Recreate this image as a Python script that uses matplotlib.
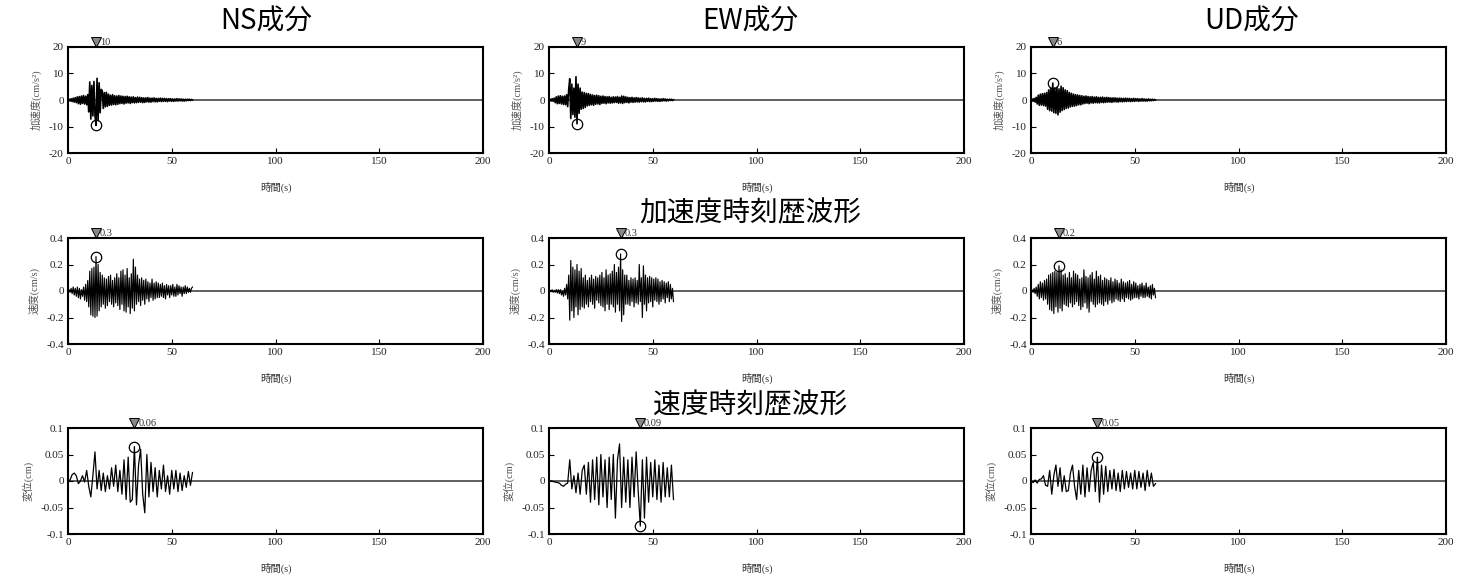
import matplotlib
matplotlib.use('Agg')
import numpy as np
import matplotlib.pyplot as plt
import matplotlib.transforms as mtransforms

# Column / row names
components = ['NS成分', 'EW成分', 'UD成分']
row_titles = ['加速度時刻歴波形', '速度時刻歴波形']
ylabels = ['加速度(cm/s²)', '速度(cm/s)', '変位(cm)']
xlabel = '時間(s)'
duration = 60.0  # record length (s)

# Acceleration (cm/s^2), 0.5 s steps
ns_acc = [0, 0.3, -0.4, 0.5, -0.6, 0.7, -0.8, 0.9, -1.0,
          1.2, -1.4, 1.3, -1.6, 1.5, -1.3, 1.7, -1.5, 1.4, -1.8, 2.0,
          -4.5, 6.8, -7.2, 5.5, -6.0, 7.0, -5.8, -9.6, 8.2, -7.8, 6.5, -4.8, 4.0,
          3.5, -3.2, 2.8, -2.6, 2.9, -2.4, 2.2, -2.0,
          1.8, -1.9, 2.0, -1.7, 1.6, -1.8, 1.5, -1.6, 1.7, -1.4, 1.5, -1.3, 1.4, -1.5, 1.3, -1.2, 1.4, -1.1, 1.2, -1.3,
          1.1, -1.0, 1.2, -1.1, 0.9, -1.0, 1.1, -0.9, 1.0, -0.8, 0.9, -1.0, 0.8, -0.9, 0.8, -0.7, 0.9, -0.8, 0.7, -0.8,
          0.7, -0.6, 0.8, -0.7, 0.6, -0.7, 0.6, -0.5, 0.7, -0.6,
          0.6, -0.5, 0.6, -0.5, 0.5, -0.6, 0.5, -0.4, 0.5, -0.5, 0.4, -0.5, 0.4, -0.4, 0.5, -0.4, 0.4, -0.3, 0.4, -0.4,
          0.3, -0.4, 0.3, -0.3, 0.3, -0.2, 0.3, -0.2, 0.2, 0.0]
ew_acc = [0, 0.3, -0.4, 0.5, -0.5, 0.7,
          -1.0, 1.2, -1.4, 1.5, -1.3, 1.6, -1.5, 1.4, -1.7, 1.5, -1.8, 2.0, -2.5,
          4.0, 8.0, -7.0, 6.0, -5.5, 4.5, -6.5, 8.8, -9.0, 6.0, -5.0, 4.5, -3.5, 3.0, -3.2, 2.8,
          -2.8, 2.5, -2.2, 2.4, -2.0, 2.1, -1.8, 1.9, -2.0, 1.7, -1.6, 1.8, -1.5, 1.6, -1.7, 1.4,
          -1.3, 1.5, -1.2, 1.3, -1.4, 1.2, -1.1, 1.3, -1.2, 1.0, -1.1, 1.2, -1.0, 1.1, -0.9, 1.3, -1.2, 1.0, -1.1, 1.5,
          -1.3, 1.4, -1.0, 1.2, -0.9, 1.0, -1.1, 0.9, -0.8, 1.0,
          -0.9, 0.8, -0.8, 0.9, -0.7, 0.8, -0.8, 0.7, -0.6, 0.8, -0.7, 0.6, -0.7, 0.6, -0.5, 0.7, -0.6, 0.5, -0.6, 0.5,
          -0.5, 0.6, -0.4, 0.5, -0.5, 0.4, -0.5, 0.4, -0.4, 0.5, -0.3, 0.4, -0.4, 0.3, -0.3, 0.3, -0.2, 0.3, -0.2, 0.1]
ud_acc = [0, 0.4, -0.5, 0.6, -0.8, 1.0,
          -1.5, 1.8, -2.0, 2.2, -1.9, 2.4, -2.1, 2.5, -2.3, 2.8,
          -3.5, 3.8, -4.0, 4.5, -4.2, 6.4, -4.8, 4.6, -5.0, 4.8, -5.6, 4.2, -4.6, 5.2, -4.0, 4.6, -3.6, 3.8, -3.2, 3.5, -3.0,
          2.8, -2.6, 2.5, -2.4, 2.2, -2.3, 2.0, -2.1, 1.9, -1.8, 1.7, -1.8, 1.6, -1.5,
          1.4, -1.3, 1.5, -1.2, 1.3, -1.4, 1.2, -1.1, 1.3, -1.2, 1.1, -1.0, 1.2, -1.1, 1.0, -1.1, 1.0, -0.9, 1.1, -1.0,
          0.9, -0.9, 1.0, -0.8, 0.9, -0.8, 0.8, -0.9, 0.8, -0.7,
          0.8, -0.7, 0.7, -0.8, 0.7, -0.6, 0.7, -0.7, 0.6, -0.6, 0.7, -0.6, 0.6, -0.5, 0.6, -0.6, 0.5, -0.5, 0.6, -0.5,
          0.5, -0.4, 0.5, -0.5, 0.4, -0.4, 0.5, -0.4, 0.4, -0.4, 0.3, -0.4, 0.4, -0.3, 0.3, -0.3, 0.3, -0.2, 0.2, 0.0]

# Velocity (cm/s), 0.5 s steps
ns_vel = [0, 0.01, -0.01, 0.02, -0.02, 0.03, -0.03, 0.02, -0.04, 0.03,
          -0.05, 0.02, -0.06, 0.01, -0.04, 0.03, -0.07, 0.05, -0.08, 0.08,
          -0.12, 0.15, -0.18, 0.17, -0.19, 0.18, -0.2, 0.26, -0.19, 0.2, -0.15, 0.14, -0.12,
          0.12, -0.1, 0.1, -0.13, 0.09, -0.11, 0.11, -0.08, 0.12, -0.1, 0.08, -0.12, 0.1, -0.09, 0.13, -0.11, 0.1,
          -0.14, 0.15, -0.1, 0.16, -0.15, 0.12, -0.16, 0.17, -0.12, 0.1, -0.17, 0.13, -0.13, 0.24, -0.15, 0.18, -0.1, 0.12, -0.08,
          0.09, -0.11, 0.1, -0.07, 0.08, -0.1, 0.09, -0.06, 0.07, -0.08, 0.06, -0.05, 0.09, -0.07, 0.06, -0.06, 0.07, -0.05, 0.06,
          -0.05, 0.05, -0.04, 0.06, -0.05, 0.04, -0.06, 0.05, -0.03, 0.04, -0.05, 0.04, -0.03, 0.05, -0.04, 0.03, -0.04,
          0.05, -0.03, 0.04, -0.02, 0.03, -0.04, 0.03, -0.02, 0.04, -0.02, 0.03, -0.01, 0.02, -0.01, 0.02, 0.03]
ew_vel = [0, 0.005, -0.005, 0.01, -0.01, 0.005, -0.01, 0.01, -0.015, 0.01,
          -0.02, 0.01, -0.03, 0.0, -0.04, 0.02, -0.03, 0.05, -0.06,
          0.12, -0.22, 0.23, -0.15, 0.18, -0.2, 0.16, -0.12, 0.2, -0.18, 0.15, -0.14, 0.17, -0.12, 0.1, -0.13,
          0.12, -0.1, 0.08, -0.12, 0.1, -0.08, 0.12, -0.1, 0.09, -0.13, 0.11, -0.07, 0.1, -0.09, 0.12, -0.11,
          0.14, -0.12, 0.1, -0.15, 0.16, -0.1, 0.12, -0.14, 0.13, -0.1,
          0.15, -0.12, 0.2, -0.16, 0.14, -0.1, 0.18, -0.15, 0.28, -0.23, 0.16, -0.18, 0.12, -0.1,
          0.12, -0.1, 0.08, -0.11, 0.1, -0.08, 0.09, -0.12, 0.1, -0.09, 0.08, -0.1, 0.2, -0.08, 0.1, -0.2,
          0.19, -0.1, 0.12, -0.15, 0.1, -0.09, 0.11, -0.08, 0.1, -0.12, 0.09, -0.07, 0.1, -0.08, 0.09,
          -0.1, 0.07, -0.08, 0.08, -0.06, 0.07, -0.09, 0.06, -0.05, 0.07, -0.08, 0.05, -0.06, 0.02, -0.08]
ud_vel = [0, 0.01, -0.01, 0.02, -0.02, 0.03,
          -0.04, 0.05, -0.06, 0.07, -0.05, 0.06, -0.07, 0.08, -0.06, 0.09,
          -0.1, 0.12, -0.14, 0.13, -0.15, 0.14, -0.17, 0.15, -0.12, 0.14, -0.16, 0.19, -0.13, 0.16, -0.15, 0.12, -0.1, 0.13, -0.11, 0.1, -0.12,
          0.14, -0.09, 0.1, -0.12, 0.15, -0.1, 0.13, -0.08, 0.12, -0.11, 0.09, -0.14, 0.1, -0.12, 0.16, -0.09, 0.11,
          -0.13, 0.1, -0.16, 0.12, -0.08, 0.14, -0.1, 0.09, -0.12, 0.15, -0.1, 0.11, -0.09, 0.12, -0.1, 0.08, -0.11,
          0.1, -0.08, 0.09, -0.1, 0.08, -0.07, 0.1, -0.09, 0.07, -0.08, 0.09, -0.06, 0.08, -0.07, 0.06,
          -0.08, 0.09, -0.06, 0.07, -0.08, 0.06, -0.05, 0.07, -0.06, 0.08, -0.07, 0.05, -0.06, 0.07, -0.05,
          0.06, -0.05, 0.04, -0.06, 0.05, -0.04, 0.06, -0.05, 0.04, -0.05, 0.06, -0.04, 0.03, -0.05, 0.04, -0.06, 0.05, -0.03, 0.02, -0.05]

# Displacement (cm), 1 s steps
ns_disp = [0, 0.002, 0.012, 0.015, 0.01, -0.005,
           0.0, 0.01, -0.002, 0.02, -0.01,
           -0.03, 0.01, 0.055, -0.015, 0.02,
           -0.018, 0.015, -0.02, 0.01, -0.015,
           0.025, -0.01, 0.03, -0.02, 0.02,
           -0.025, 0.04, -0.035, 0.045, -0.04,
           -0.035, 0.065, -0.045, 0.03, 0.06, -0.025, -0.06, 0.05, -0.03, 0.035,
           -0.02, 0.025, -0.03, 0.02, -0.015, 0.03, -0.02, 0.01, -0.025, 0.02,
           -0.015, 0.02, -0.02, 0.015, -0.018, 0.01, -0.012, 0.018, -0.008, 0.016]
ew_disp = [0, 0, -0.001, -0.002, -0.003, -0.004,
           -0.008, -0.01, -0.006, -0.004, 0.04,
           -0.015, 0.01, -0.022, 0.015, -0.025,
           0.02, 0.03, -0.025, 0.035, -0.04,
           0.04, -0.035, 0.045, -0.045, 0.05,
           -0.03, 0.04, -0.05, 0.045, -0.035,
           0.05, -0.07, 0.04, 0.07, -0.05, 0.045, -0.04, 0.04, -0.05, 0.045,
           -0.03, 0.055, -0.02, -0.085, 0.04, -0.07, 0.045, -0.04, 0.035, -0.03,
           0.04, -0.035, 0.03, -0.04, 0.035, -0.03, 0.025, -0.03, 0.03, -0.035]
ud_disp = [0, -0.003, 0.002, -0.004, 0.003, 0.004,
           0.01, -0.008, -0.01, 0.02, -0.025,
           0.01, 0.03, -0.01, 0.025, -0.02,
           0.01, -0.02, -0.018, 0.015, 0.03,
           -0.01, -0.035, 0.02, -0.025, 0.03,
           -0.03, 0.025, -0.02, 0.02, 0.035,
           -0.02, 0.045, -0.04, 0.03, -0.025, 0.028, -0.02, 0.02, -0.015, 0.022,
           -0.018, 0.015, -0.02, 0.02, -0.015, 0.018, -0.012, 0.015, -0.015, 0.02,
           -0.015, 0.018, -0.012, 0.015, -0.018, 0.02, -0.01, 0.015, -0.01, -0.005]

# Peak value labels shown next to the triangles
peak_labels = [['10', '9', '6'],
               ['0.3', '0.3', '0.2'],
               ['0.06', '0.09', '0.05']]

waves = [[ns_acc, ew_acc, ud_acc],
         [ns_vel, ew_vel, ud_vel],
         [ns_disp, ew_disp, ud_disp]]

# Axis ranges / tick labels per row
y_limits = [20, 0.4, 0.1]
y_ticks = [[-20, -10, 0, 10, 20],
           [-0.4, -0.2, 0, 0.2, 0.4],
           [-0.1, -0.05, 0, 0.05, 0.1]]
y_ticklabels = [['-20', '-10', '0', '10', '20'],
                ['-0.4', '-0.2', '0', '0.2', '0.4'],
                ['-0.1', '-0.05', '0', '0.05', '0.1']]
x_ticks = [0, 50, 100, 150, 200]
trace_lw = [1.2, 0.85, 0.9]

serif = ['Liberation Serif', 'Noto Sans CJK JP']
plt.rcParams['font.family'] = serif

fig = plt.figure(figsize=(14.63, 5.79), dpi=100)

W, H = 1463.0, 579.0
col_left = [68, 549, 1031]
row_top = [47, 238, 428]
ax_w, ax_h = 415, 106

for r in range(3):
    for c in range(3):
        ax = fig.add_axes([col_left[c] / W, 1 - (row_top[r] + ax_h) / H, ax_w / W, ax_h / H])
        vals = np.array(waves[r][c])
        t = np.linspace(0, duration, len(vals))

        ax.axhline(0, color='#444444', lw=1.2, zorder=1)
        ax.plot(t, vals, color='black', lw=trace_lw[r], zorder=2)

        # peak marker: circle on the trace, triangle above the frame
        k = np.argmax(np.abs(vals))
        ax.plot(t[k], vals[k], 'o', mfc='none', mec='black', ms=7.5, mew=0.9, zorder=3)
        trans = mtransforms.blended_transform_factory(ax.transData, ax.transAxes)
        ax.plot(t[k], 1.045, 'v', color='#888888', mec='black', mew=0.7, ms=6.5,
                transform=trans, clip_on=False)
        ax.text(t[k] + 1.8, 1.045, peak_labels[r][c], transform=trans, fontsize=7.5,
                va='center', ha='left', color='#333333')

        ax.set_xlim(0, 200)
        ax.set_ylim(-y_limits[r], y_limits[r])
        ax.set_xticks(x_ticks)
        ax.set_xticklabels([str(x) for x in x_ticks])
        ax.set_yticks(y_ticks[r])
        ax.set_yticklabels(y_ticklabels[r])
        ax.tick_params(direction='in', length=3.5, width=0.8, labelsize=8,
                       colors='black', labelcolor='#222222', pad=3)
        for s in ax.spines.values():
            s.set_linewidth(1.5)

        ax.set_ylabel(ylabels[r], fontsize=7.5, color='#555555', labelpad=5)
        ax.set_xlabel(xlabel, fontsize=7.5, color='#333333', labelpad=11)

# column titles
title_x = [266, 750, 1252]
for c in range(3):
    fig.text(title_x[c] / W, 1 - 22 / H, components[c], fontsize=20,
             family='Noto Sans CJK JP', ha='center', va='center')

# row titles under the first two rows
fig.text(750 / W, 1 - 213 / H, row_titles[0], fontsize=20,
         family='Noto Sans CJK JP', ha='center', va='center')
fig.text(750 / W, 1 - 405 / H, row_titles[1], fontsize=20,
         family='Noto Sans CJK JP', ha='center', va='center')

fig.savefig('out.png', dpi=100)
